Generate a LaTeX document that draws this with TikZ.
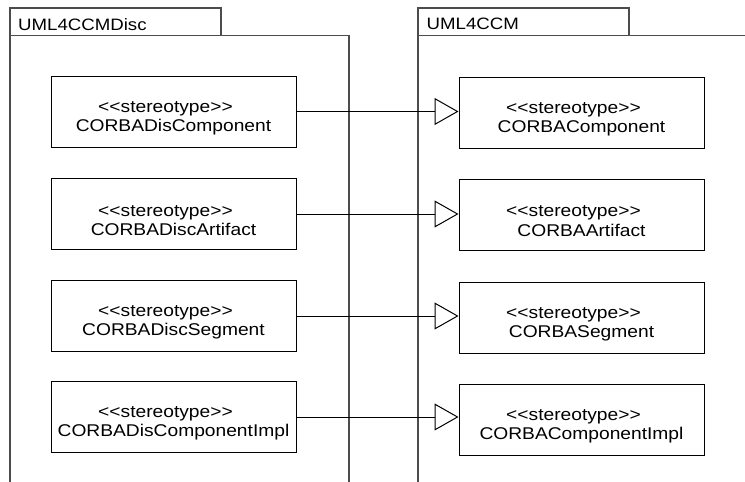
\documentclass[tikz,border=0pt]{standalone}
\usepackage{fontspec}
\setmainfont{Liberation Sans}[FakeStretch=1.13]
\usepackage{tikz}
\usetikzlibrary{arrows.meta}

\tikzset{
    stereobox/.style={draw, line width=1pt, minimum width=245pt, minimum height=71pt, inner sep=0pt, align=center, font=\fontsize{17}{19.3}\selectfont},
    pkgline/.style={draw=black!70, line width=1.2pt},
    pkglabel/.style={anchor=base west, inner sep=0pt, font=\fontsize{16.5}{19}\selectfont},
    realize/.style={line width=1pt, -{Triangle[open, length=24pt, width=27pt]}}
}
\newcommand{\stereo}[1]{\rule{0pt}{24pt}<{}<stereotype>{}>\hspace*{16pt}\\#1}

\begin{document}
\begin{tikzpicture}[x=1pt, y=-1pt]
    \useasboundingbox (0,0) rectangle (745,482);

    % Packages
    \draw[pkgline] (10,8) rectangle (221,35.5);
    \draw[pkgline] (10,482) -- (10,35.5) -- (349,35.5) -- (349,482);
    \node[pkglabel] (pkgdisc) at (18,30.5) {UML4CCMDisc};
    \draw[pkgline] (418,8) rectangle (629,35.5);
    \draw[pkgline] (418,482) -- (418,35.5) -- (745,35.5);
    \node[pkglabel] (pkgccm) at (426.5,29) {UML4CCM};

    % Stereotypes and realizations
    \foreach \i/\ly/\ry/\lname/\rname in {1/111.5/112.5/CORBADisComponent/CORBAComponent,
        2/214/214.5/CORBADiscArtifact/CORBAArtifact,
        3/316/318/CORBADiscSegment/CORBASegment,
        4/417/419.5/CORBADisComponentImpl/CORBAComponentImpl} {
        \node[stereobox] (disc\i) at (173.5,\ly) {\stereo{\lname}};
        \node[stereobox] (ccm\i) at (581.5,\ry) {\stereo{\rname}};
        \draw[realize] (disc\i) -- (disc\i -| ccm\i.west);
    }
\end{tikzpicture}
\end{document}
